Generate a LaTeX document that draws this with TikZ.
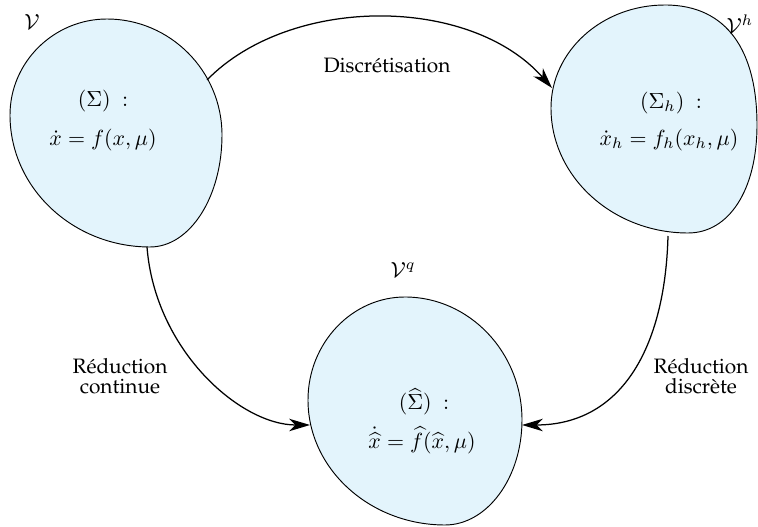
\documentclass[tikz,border=0pt]{standalone}
\usepackage[T1]{fontenc}
\renewcommand{\rmdefault}{ppl}
\usetikzlibrary{arrows.meta}
\definecolor{blobfill}{RGB}{227,244,252}
\begin{document}
\begin{tikzpicture}[x=0.48pt,y=-0.48pt,
  blob/.style={draw=black, line width=0.45pt, fill=blobfill},
  conn/.style={line width=0.6pt, -{Stealth[length=10pt,width=6pt,inset=3pt]}},
  lbl/.style={align=center, inner sep=0pt, font=\fontsize{10}{9.6}\selectfont},
  eq/.style={inner sep=0pt, scale=1.05}]
\useasboundingbox (0,0) rectangle (758,527);
% blobs
\draw[blob] (107,19) .. controls (170,19) and (222,71) .. (222,135)
  .. controls (222,197) and (190,247) .. (150,247)
  .. controls (73,247) and (10,188) .. (10,115)
  .. controls (10,62) and (54,19) .. (107,19) -- cycle;
\draw[blob] (665,5) .. controls (728,5) and (757,52) .. (757,125)
  .. controls (757,190) and (729,233) .. (688,233)
  .. controls (613,233) and (551,177) .. (551,108)
  .. controls (551,51) and (602,5) .. (665,5) -- cycle;
\draw[blob] (405,297) .. controls (469,297) and (522,352) .. (522,420)
  .. controls (522,478) and (487,525) .. (445,525)
  .. controls (370,525) and (308,469) .. (308,400)
  .. controls (308,343) and (352,297) .. (405,297) -- cycle;
% anchor points on the boundaries
\coordinate (Aout) at (207,80);
\coordinate (Abot) at (147,247);
\coordinate (Bin) at (552,88);
\coordinate (Bbot) at (668,236);
\coordinate (Cleft) at (310,425);
\coordinate (Cright) at (522,425);
% texts in blobs
\node[eq] (A1) at (103,101) {$(\Sigma)\ :$};
\node[eq] (A2) at (103,140) {$\dot x = f(x,\mu)$};
\node[eq] (B1) at (671,103) {$(\Sigma_h)\ :$};
\node[eq] (B2) at (669,140) {$\dot x_h = f_h(x_h,\mu)$};
\node[eq] (C1) at (424,402) {$(\widehat\Sigma)\ :$};
\node[eq] (C2) at (422,440) {$\dot{\widehat{x}} = \widehat f(\widehat x,\mu)$};
% set labels
\node[eq] (VA) at (32,22) {$\mathcal{V}$};
\node[eq] (VB) at (740,24) {$\mathcal{V}^h$};
\node[eq] (VC) at (403,270) {$\mathcal{V}^q$};
% connectors
\draw[conn] (Aout) .. controls (290,-5) and (470,-5) .. (Bin);
\draw[conn] (Abot) .. controls (155,350) and (240,425) .. (Cleft);
\draw[conn] (Bbot) .. controls (665,350) and (620,425) .. (Cright);
% connector labels
\node[lbl] (Ld) at (387,66) {Discr\'etisation};
\node[lbl] (Lc) at (120,376) {R\'eduction\\continue};
\node[lbl] (Lr) at (701,376) {R\'eduction\\discr\`ete};
\end{tikzpicture}
\end{document}
